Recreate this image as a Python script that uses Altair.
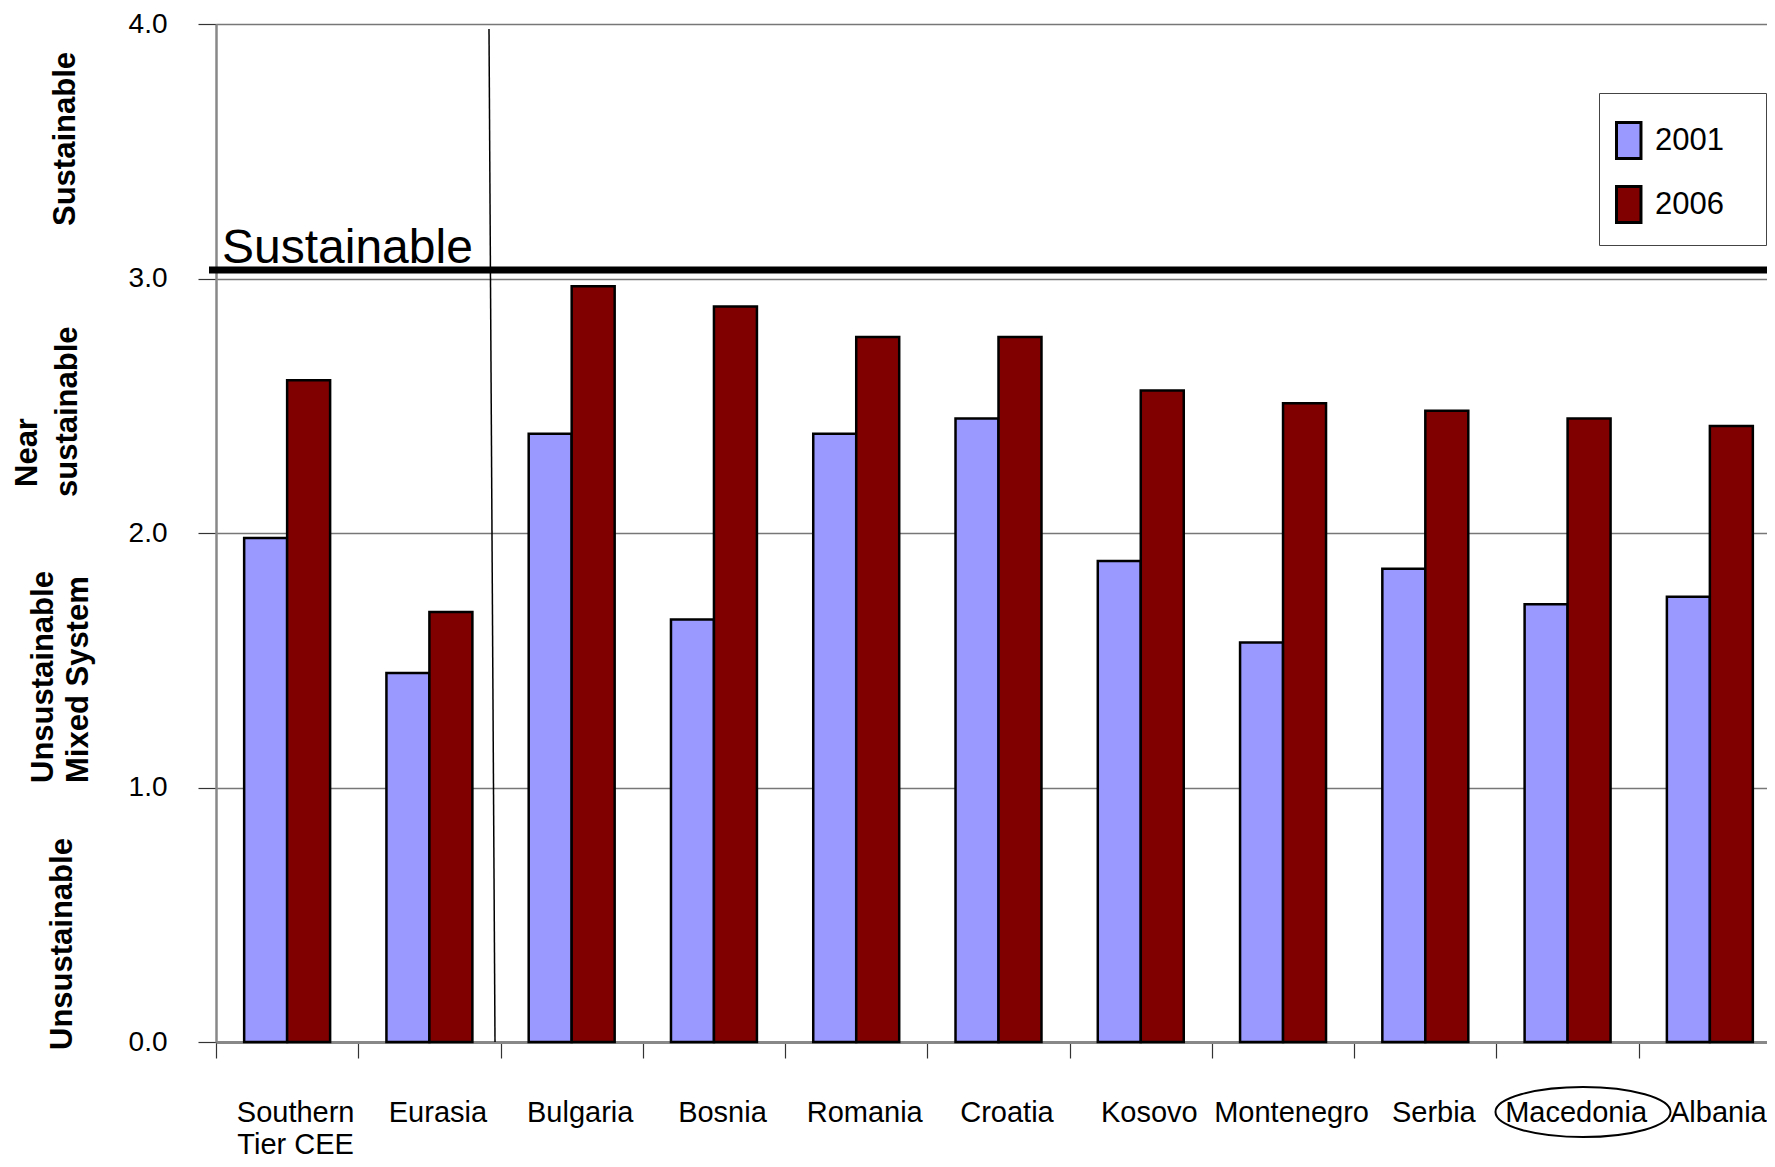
import altair as alt
import pandas as pd

# ---- data ----
countries = ["Southern Tier CEE", "Eurasia", "Bulgaria", "Bosnia", "Romania", "Croatia",
             "Kosovo", "Montenegro", "Serbia", "Macedonia", "Albania"]
years = ["2001", "2006"]
values_2001 = [1.98, 1.45, 2.39, 1.66, 2.39, 2.45, 1.89, 1.57, 1.86, 1.72, 1.75]
values_2006 = [2.60, 1.69, 2.97, 2.89, 2.77, 2.77, 2.56, 2.51, 2.48, 2.45, 2.42]
y_ticks = [0, 1, 2, 3, 4]
sustainable_threshold = 3.033

colors = ["#9999FF", "#800000"]
FONT = "Liberation Sans"

df = pd.DataFrame({
    "country": countries * 2,
    "year": [years[0]] * len(countries) + [years[1]] * len(countries),
    "value": values_2001 + values_2006,
})
dummy = pd.DataFrame({"a": [0]})

W = 1551
H = 1018
X_RANGE = 1565

label_expr = ("datum.value == 'Southern Tier CEE' ? ['Southern', 'Tier CEE'] : datum.label")

bars = alt.Chart(df).mark_bar(stroke="black", strokeWidth=2.5).encode(
    x=alt.X("country:N", sort=countries, title=None,
            scale=alt.Scale(range=[0, X_RANGE], paddingInner=0, paddingOuter=0),
            axis=alt.Axis(labelAngle=0, tickBand="extent", tickSize=16, tickColor="#333",
                          tickWidth=1.2, domainColor="#888", domainWidth=3,
                          labelFontSize=29, labelPadding=40, labelOffset=8,
                          labelLineHeight=32, labelExpr=label_expr, labelColor="black",
                          labelOverlap=False, labelLimit=400, grid=False, labelFont=FONT)),
    xOffset=alt.XOffset("year:N", sort=years,
                        scale=alt.Scale(paddingInner=0, paddingOuter=0.655)),
    y=alt.Y("value:Q", title=None,
            scale=alt.Scale(domain=[0, 4], nice=False, zero=True),
            axis=alt.Axis(values=y_ticks, format=".1f", grid=True, gridColor="#777",
                          gridWidth=1.5, domainColor="#888", domainWidth=2.5,
                          tickColor="#333", tickSize=18, tickWidth=1.2,
                          labelFontSize=28, labelPadding=31, labelColor="black",
                          labelFont=FONT)),
    color=alt.Color("year:N", sort=years,
                    scale=alt.Scale(domain=years, range=colors),
                    legend=alt.Legend(title=" ", titleFontSize=8, titlePadding=4,
                                      orient="none", legendX=1383, legendY=69,
                                      symbolType="M-1,-1L0.36,-1L0.36,1L-1,1Z",
                                      symbolSize=1296, symbolStrokeColor="black",
                                      symbolStrokeWidth=3, symbolOpacity=1,
                                      labelFontSize=31, labelOffset=1, labelFont=FONT,
                                      labelColor="black",
                                      labelExpr="datum.label + '\u00a0\u00a0\u00a0\u200b'",
                                      rowPadding=15, padding=16,
                                      strokeColor="#444", fillColor="white")),
)

thick_rule = alt.Chart(dummy).mark_rule(color="black", strokeWidth=7).encode(
    x=alt.value(-7), x2=alt.value(W), y=alt.datum(sustainable_threshold)
)

slant_rule = alt.Chart(dummy).mark_rule(color="black", strokeWidth=1.5).encode(
    x=alt.value(273), x2=alt.value(279), y=alt.value(5), y2=alt.value(H)
)

big_text = alt.Chart(dummy).mark_text(
    text="Sustainable", fontSize=48, font=FONT, align="left", baseline="alphabetic",
    color="black"
).encode(x=alt.value(6), y=alt.value(239))


def rot(text, x, y):
    return alt.Chart(dummy).mark_text(
        text=text, angle=270, align="left", baseline="alphabetic", fontSize=31,
        fontWeight="bold", font=FONT, color="black"
    ).encode(x=alt.value(x), y=alt.value(y))


side_labels = [
    rot("Sustainable", -141, 202),
    rot("Near", -179, 463),
    rot("sustainable", -139, 473),
    rot("Unsustainable", -163, 759),
    rot("Mixed System", -128, 759),
    rot("Unsustainable", -144, 1026),
]

ellipse_path = "M-1.75,0A1.75,0.5,0,1,0,1.75,0A1.75,0.5,0,1,0,-1.75,0Z"
ellipse = alt.Chart(dummy).mark_point(
    shape=ellipse_path, size=10000, filled=False, stroke="black", strokeWidth=2, opacity=1
).encode(x=alt.value(1367), y=alt.value(1088))

chart = alt.layer(bars, thick_rule, slant_rule, big_text, ellipse, *side_labels).properties(
    width=W, height=H,
    autosize=alt.AutoSizeParams(type="none"),
    padding={"left": 208, "top": 16, "right": 0, "bottom": 120},
    background="white",
).configure_view(stroke="transparent")

chart.save("out.html", embed_options={"renderer": "svg", "actions": False})
